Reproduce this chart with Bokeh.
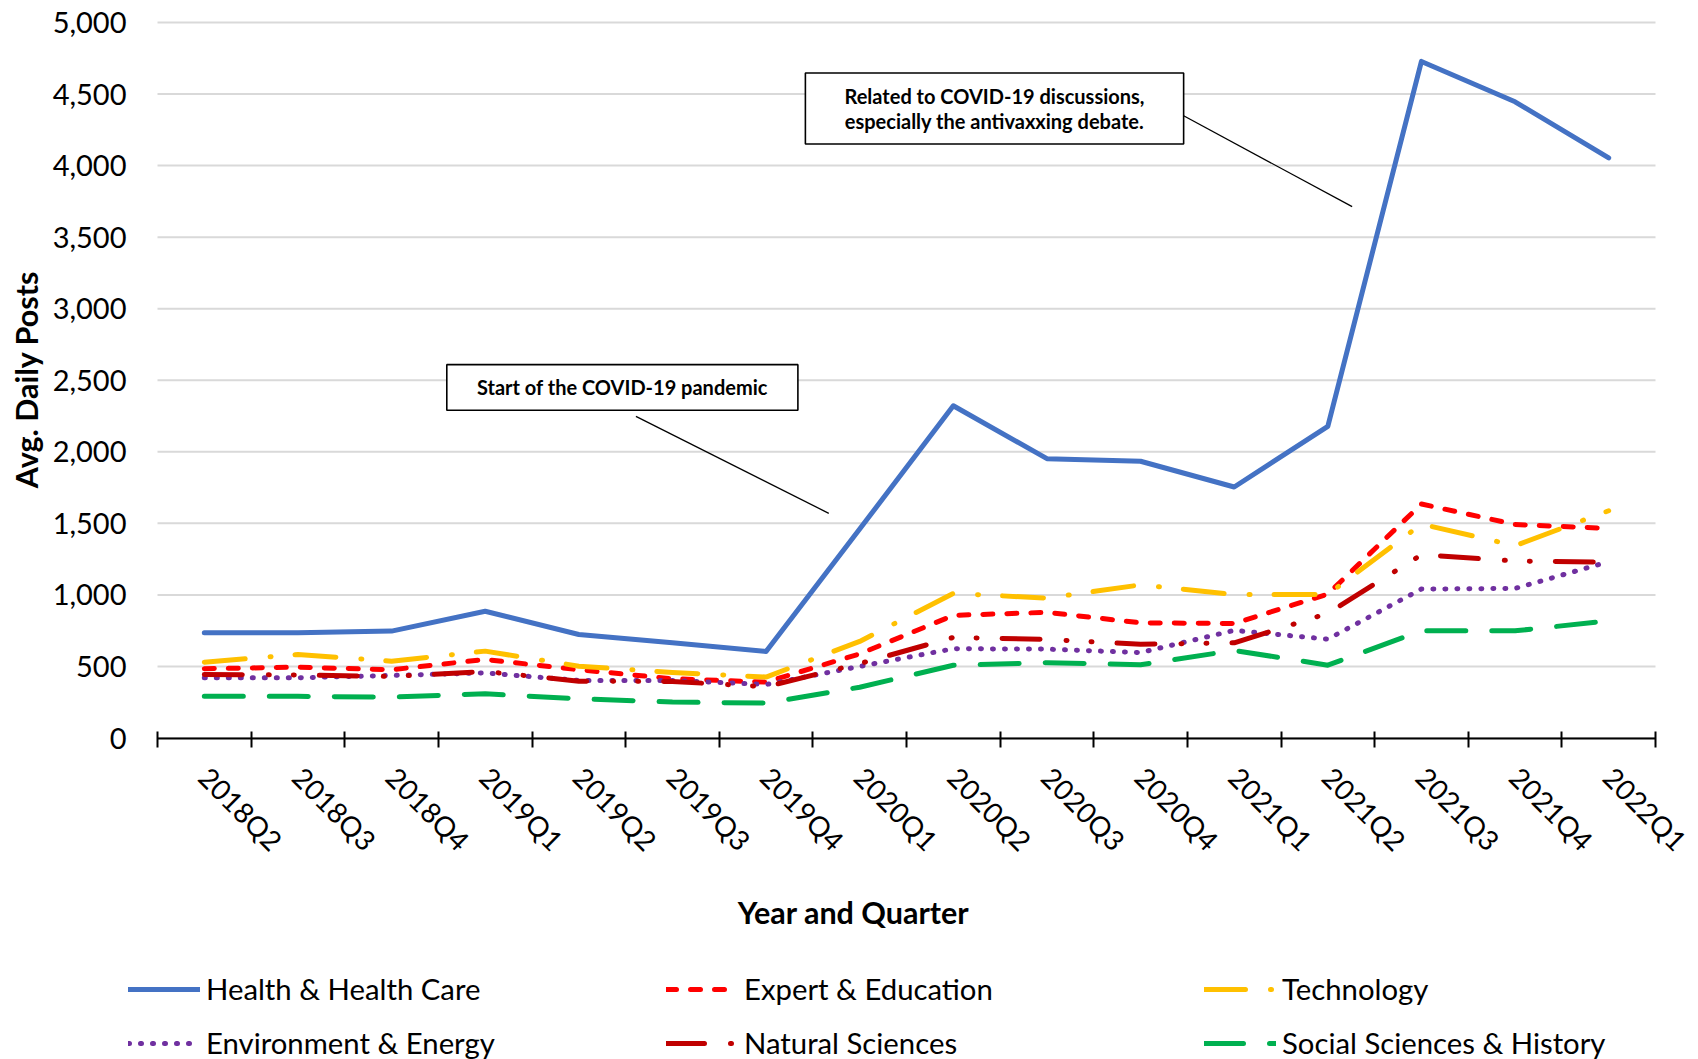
import math
from bokeh.plotting import figure
from bokeh.models import (Range1d, FixedTicker, CustomJSTickFormatter, Legend, LegendItem,
                          BoxAnnotation, Label, NumeralTickFormatter)
from bokeh.embed import file_html
from bokeh.resources import INLINE

# ---------------- data ----------------
quarters = ["2018Q2", "2018Q3", "2018Q4", "2019Q1", "2019Q2", "2019Q3", "2019Q4", "2020Q1",
            "2020Q2", "2020Q3", "2020Q4", "2021Q1", "2021Q2", "2021Q3", "2021Q4", "2022Q1"]
health = [735, 735, 747, 886, 723, 665, 605, 1460, 2322, 1952, 1934, 1754, 2178, 4728, 4446, 4054]
expert = [484, 495, 477, 549, 477, 414, 391, 588, 857, 878, 805, 800, 1006, 1635, 1492, 1465]
technology = [530, 584, 537, 607, 502, 458, 426, 675, 1010, 978, 1070, 1003, 1003, 1495, 1344, 1588]
environment = [421, 421, 437, 455, 402, 402, 374, 500, 624, 621, 597, 752, 691, 1041, 1045, 1232]
natural = [444, 440, 430, 465, 397, 395, 358, 520, 703, 689, 655, 665, 871, 1281, 1237, 1228]
social = [291, 291, 286, 309, 274, 251, 244, 355, 508, 526, 512, 612, 509, 749, 749, 819]
y_ticks = [0, 500, 1000, 1500, 2000, 2500, 3000, 3500, 4000, 4500, 5000]

series_names = ["Health & Health Care", "Expert & Education", "Technology",
                "Environment & Energy", "Natural Sciences", "Social Sciences & History"]
series_values = [health, expert, technology, environment, natural, social]
series_colors = ["#4472C4", "#FF0000", "#FFC000", "#7030A0", "#C00000", "#00B050"]
series_dashes = ["solid", "10 14", "41 25 1 24", "1 11", "38 26 1 24 1 25", "39 26"]

x_title = "Year and Quarter"
y_title = "Avg. Daily Posts"
ann1_text = "Start of the COVID-19 pandemic"
ann2_text = "Related to COVID-19 discussions,\nespecially the antivaxxing debate."

FONT = "Lato"

# ---------------- layout (pixels) ----------------
W, H = 1698, 1059
PLOT_L, PLOT_R, PLOT_T, PLOT_B = 157, 1655, 22, 737.5   # plot area in page pixels
n = len(quarters)
YMAX = 5000
sx = (PLOT_R - PLOT_L) / n
sy = (PLOT_B - PLOT_T) / YMAX
x_start = -PLOT_L / sx
x_end = n + (W - PLOT_R) / sx
y_start = -(H - PLOT_B) / sy
y_end = YMAX + PLOT_T / sy


def px_to_x(px):
    return (px - PLOT_L) / sx


def py_to_y(py):
    return (PLOT_B - py) / sy


xs = [i + 0.5 for i in range(n)]

p = figure(width=W, height=H, x_range=Range1d(x_start, x_end), y_range=Range1d(y_start, y_end),
           output_backend="svg", toolbar_location=None, min_border=0)
p.outline_line_color = None
p.background_fill_color = "white"
p.border_fill_color = "white"

# horizontal gridlines limited to the plot area (drawn from the tick list)
p.xgrid.grid_line_color = None
p.ygrid.grid_line_color = None
p.segment(x0=[0] * len(y_ticks), x1=[n] * len(y_ticks), y0=y_ticks, y1=y_ticks,
          line_color="#D9D9D9", line_width=2)

ya = p.yaxis[0]
ya.fixed_location = 0
ya.bounds = (0, YMAX)
ya.ticker = FixedTicker(ticks=y_ticks)
ya.formatter = NumeralTickFormatter(format="0,0")
ya.axis_line_color = None
ya.major_tick_line_color = None
ya.minor_tick_line_color = None
ya.major_tick_out = 0
ya.major_tick_in = 0
ya.major_label_standoff = 31
ya.major_label_text_font = FONT
ya.major_label_text_font_size = "29px"
ya.major_label_text_color = "#000000"

xa = p.xaxis[0]
xa.fixed_location = 0
xa.bounds = (0, n)
xa.ticker = FixedTicker(ticks=xs, minor_ticks=list(range(n + 1)))
xa.formatter = CustomJSTickFormatter(args=dict(labels=quarters),
                                     code="return labels[Math.floor(tick)];")
xa.axis_line_color = "#000000"
xa.axis_line_width = 2
xa.major_tick_line_color = None
xa.major_tick_out = 9
xa.major_tick_in = 0
xa.minor_tick_line_color = "#000000"
xa.minor_tick_line_width = 2
xa.minor_tick_in = 7
xa.minor_tick_out = 9
xa.major_label_orientation = -math.pi / 4
xa.major_label_standoff = 25
xa.major_label_text_font = FONT
xa.major_label_text_font_size = "28px"
xa.major_label_text_color = "#000000"

# axis titles (Excel centres the x title on the chart area, not the plot area)
p.add_layout(Label(x=px_to_x(853), y=py_to_y(911), text=x_title, text_align="center",
                   text_baseline="middle", text_font=FONT, text_font_size="30.5px",
                   text_font_style="bold", text_color="#000000"))
p.add_layout(Label(x=px_to_x(25), y=py_to_y(379), text=y_title, angle=math.pi / 2,
                   text_align="center", text_baseline="middle", text_font=FONT,
                   text_font_size="30.5px", text_font_style="bold", text_color="#000000"))

items = []
for name, vals, col, dash in zip(series_names, series_values, series_colors, series_dashes):
    r = p.line(xs, vals, line_color=col, line_width=5, line_dash=dash,
               line_cap="round", line_join="round")
    items.append(LegendItem(label=name, renderers=[r]))

# annotations (positions in data units)
ann1_box = dict(left=3.09, right=6.84, top=2609, bottom=2290)
ann1_line = dict(x0=5.11, y0=2248, x1=7.17, y1=1570)
ann2_box = dict(left=6.92, right=10.96, top=4647, bottom=4151)
ann2_line = dict(x0=10.96, y0=4348, x1=12.76, y1=3713)

for box, line in ((ann1_box, ann1_line), (ann2_box, ann2_line)):
    p.segment(x0=[line["x0"]], y0=[line["y0"]], x1=[line["x1"]], y1=[line["y1"]],
              line_color="#000000", line_width=1.3)
    p.add_layout(BoxAnnotation(left=box["left"], right=box["right"], top=box["top"],
                               bottom=box["bottom"], fill_color="white", fill_alpha=1.0,
                               line_color="#000000", line_width=1.6, line_alpha=1.0))

p.add_layout(Label(x=(ann1_box["left"] + ann1_box["right"]) / 2,
                   y=(ann1_box["top"] + ann1_box["bottom"]) / 2,
                   text=ann1_text, text_align="center", text_baseline="middle",
                   text_font=FONT, text_font_size="20px", text_font_style="bold",
                   text_color="#000000"))
p.add_layout(Label(x=(ann2_box["left"] + ann2_box["right"]) / 2,
                   y=(ann2_box["top"] + ann2_box["bottom"]) / 2,
                   text=ann2_text, text_align="center", text_baseline="middle",
                   text_font=FONT, text_font_size="20px", text_font_style="bold",
                   text_color="#000000", text_line_height=1.08))

# legend, inside the (full-canvas) frame, below the axis title
legend = Legend(items=items, orientation="horizontal", ncols=3,
                glyph_width=72, glyph_height=20, label_standoff=6, label_width=441,
                spacing=19, padding=0, margin=0,
                label_text_font=FONT, label_text_font_size="29.3px",
                label_text_color="#000000",
                border_line_color=None, background_fill_alpha=0,
                location=(128, -1))
p.add_layout(legend, "center")

open("out.html", "w").write(file_html(p, INLINE))
